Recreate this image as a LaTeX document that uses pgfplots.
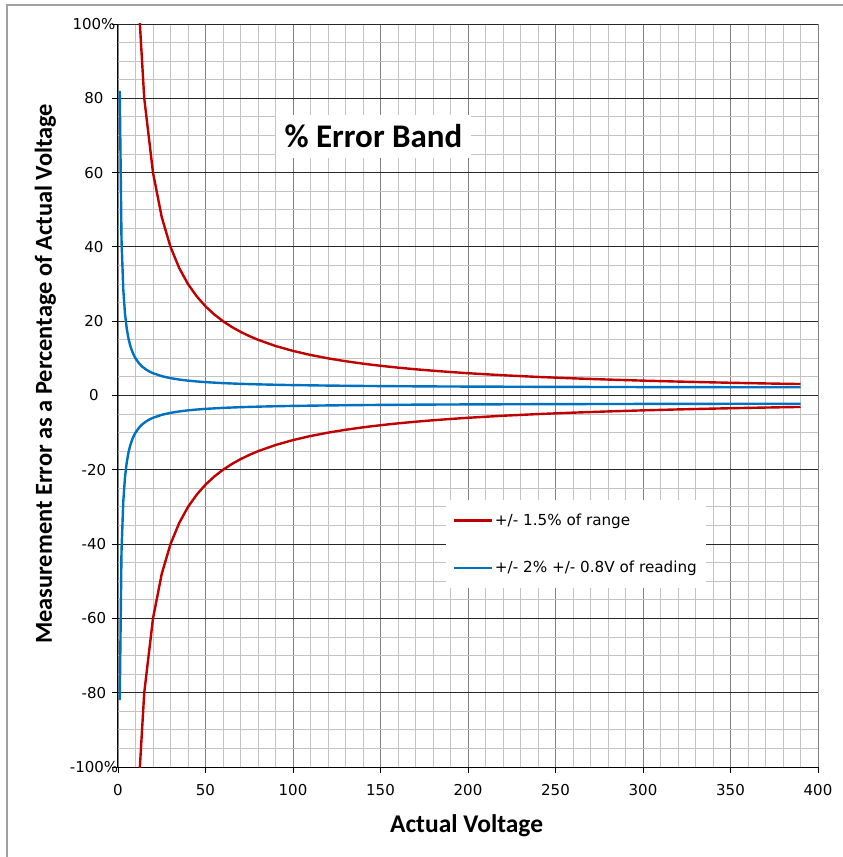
\documentclass[border=0pt]{standalone}
\usepackage{pgfplots}
\pgfplotsset{compat=1.18}
\usepackage{pgfplotstable}
\usepackage{fontspec}
\setmainfont{DejaVu Sans}
\newfontfamily\carlito{Carlito}
\definecolor{xlred}{RGB}{192,0,0}
\definecolor{xlblue}{RGB}{0,112,192}
\definecolor{minorgrid}{RGB}{195,195,195}
\definecolor{majorxgrid}{RGB}{128,128,128}
\definecolor{majorygrid}{RGB}{40,40,40}
\definecolor{frame}{RGB}{160,160,160}

\pgfplotstableread{
x y
10 120
15 80
20 60
25 48
30 40
35 34.29
40 30
45 26.67
50 24
55 21.82
60 20
65 18.46
70 17.14
75 16
80 15
90 13.33
100 12
110 10.91
120 10
130 9.23
140 8.57
150 8
160 7.5
170 7.06
180 6.67
190 6.32
200 6
220 5.45
240 5
260 4.62
280 4.29
300 4
320 3.75
340 3.53
360 3.33
380 3.16
390 3.08
}\redpos

\pgfplotstableread{
x y
10 -120
15 -80
20 -60
25 -48
30 -40
35 -34.29
40 -30
45 -26.67
50 -24
55 -21.82
60 -20
65 -18.46
70 -17.14
75 -16
80 -15
90 -13.33
100 -12
110 -10.91
120 -10
130 -9.23
140 -8.57
150 -8
160 -7.5
170 -7.06
180 -6.67
190 -6.32
200 -6
220 -5.45
240 -5
260 -4.62
280 -4.29
300 -4
320 -3.75
340 -3.53
360 -3.33
380 -3.16
390 -3.08
}\redneg

\pgfplotstableread{
x y
1 82
2 42
3 28.67
4 22
5 18
6 15.33
7 13.43
8 12
9 10.89
10 10
12 8.67
14 7.71
16 7
18 6.44
20 6
25 5.2
30 4.67
35 4.29
40 4
45 3.78
50 3.6
60 3.33
70 3.14
80 3
90 2.89
100 2.8
120 2.67
140 2.57
160 2.5
180 2.44
200 2.4
250 2.32
300 2.27
350 2.23
390 2.21
}\bluepos

\pgfplotstableread{
x y
1 -82
2 -42
3 -28.67
4 -22
5 -18
6 -15.33
7 -13.43
8 -12
9 -10.89
10 -10
12 -8.67
14 -7.71
16 -7
18 -6.44
20 -6
25 -5.2
30 -4.67
35 -4.29
40 -4
45 -3.78
50 -3.6
60 -3.33
70 -3.14
80 -3
90 -2.89
100 -2.8
120 -2.67
140 -2.57
160 -2.5
180 -2.44
200 -2.4
250 -2.32
300 -2.27
350 -2.23
390 -2.21
}\blueneg

\begin{document}
\begin{tikzpicture}
\path[use as bounding box] (-118pt,-90pt) rectangle (725pt,767pt);
\draw[frame, line width=1.2pt] (-111pt,-90pt) -- (-111pt,762pt) -- (725pt,762pt);
\begin{axis}[
  at={(0pt,0pt)}, anchor=south west,
  width=700pt, height=743pt, scale only axis,
  xmin=0, xmax=400, ymin=-100, ymax=100,
  xtick={0,50,...,400},
  xticklabels={0,50,100,150,200,250,300,350,400},
  ytick={-100,-80,...,100},
  yticklabels={-100\%,-80,-60,-40,-20,0,20,40,60,80,100\%},
  minor x tick num=4, minor y tick num=3,
  grid=both,
  minor grid style={minorgrid, line width=0.9pt},
  major x grid style={majorxgrid, line width=0.9pt},
  major y grid style={majorygrid, line width=0.9pt},
  axis lines=left,
  axis line style={-, black, line width=1pt},
  tick align=outside, major tick length=6pt, minor tick length=0pt,
  tick style={black, line width=0.9pt},
  ticklabel style={font=\fontsize{15}{18}\selectfont},
  xticklabel style={yshift=-8pt},
  yticklabel style={anchor=center, xshift=-18pt},
  xlabel={Actual Voltage},
  ylabel={Measurement Error as a Percentage of Actual Voltage},
  xlabel style={at={(axis description cs:0.498,-0.0875)}, anchor=base, font=\carlito\bfseries\fontsize{25.5}{30}\selectfont},
  ylabel style={at={(axis description cs:-0.0943,0.529)}, anchor=base, font=\carlito\bfseries\fontsize{24.4}{28}\selectfont},
  legend style={at={(axis description cs:0.4676,0.3594)}, anchor=north west, draw=none, fill=white,
    inner xsep=7pt, inner ysep=12pt, row sep=30pt, font=\fontsize{15.2}{18}\selectfont,
    cells={anchor=west}},
  legend image code/.code={\draw[#1] (0pt,0pt) -- (38pt,0pt);},
  every axis plot/.append style={line width=2.4pt, line join=round},
]
\addplot[xlred] table[x=x,y=y] {\redpos};
\addlegendentry{+/- 1.5\% of range}
\addplot[xlblue] table[x=x,y=y] {\bluepos};
\addlegendentry{+/- 2\% +/- 0.8V of reading}
\addplot[xlred, forget plot] table[x=x,y=y] {\redneg};
\addplot[xlblue, forget plot] table[x=x,y=y] {\blueneg};
\node[fill=white, inner sep=0pt, minimum width=195pt, minimum height=43pt,
  font=\carlito\bfseries\fontsize{33}{38}\selectfont] at (axis cs:146,69.8) {\% Error Band};
\end{axis}
\end{tikzpicture}
\end{document}
